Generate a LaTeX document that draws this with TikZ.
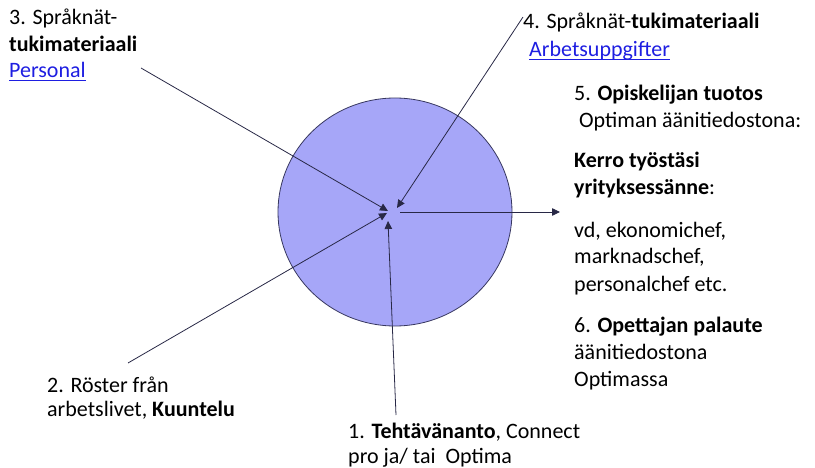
\documentclass[tikz,border=0pt]{standalone}
\usepackage{fontspec}
\setmainfont{Carlito}
\usetikzlibrary{arrows.meta,shapes.geometric}
\definecolor{discfill}{RGB}{166,166,248}
\definecolor{discline}{RGB}{55,55,95}
\definecolor{linkblue}{RGB}{30,30,225}
\definecolor{arrowline}{RGB}{40,40,70}
\begin{document}
\begin{tikzpicture}[x=1pt,y=-1pt,
  lbl/.style={anchor=base west,inner sep=0pt,font=\fontsize{22}{27}\selectfont},
  link/.style={lbl,text=linkblue},
  conn/.style={draw=arrowline,line width=0.8pt,-{Triangle[length=8pt,width=7.5pt]}}]
\useasboundingbox (0,0) rectangle (815,468);
\node[ellipse,draw=discline,fill=discfill,line width=0.8pt,minimum width=234,minimum height=228,inner sep=0pt] (disc) at (395,212) {};
% texts
\node[lbl] (t3a) at (9,25) {3. Språknät-};
\node[lbl] (t3b) at (9,52) {\textbf{tukimateriaali}};
\node[link] (t3c) at (9,78) {Personal};
\draw[linkblue,line width=1pt] ([yshift=-3pt]t3c.base west) -- ([yshift=-3pt]t3c.base east);
\node[lbl] (t4a) at (523,29) {4. Språknät-\textbf{tukimateriaali}};
\node[link] (t4b) at (529,57) {Arbetsuppgifter};
\draw[linkblue,line width=1pt] ([yshift=-3pt]t4b.base west) -- ([yshift=-3pt]t4b.base east);
\node[lbl] (t5a) at (574,101) {5. \textbf{Opiskelijan tuotos}};
\node[lbl] (t5b) at (574,128) {\ Optiman äänitiedostona:};
\node[lbl] (t5c) at (574,168) {\textbf{Kerro työstäsi}};
\node[lbl] (t5d) at (574,195) {\textbf{yrityksessänne}:};
\node[lbl] (t5e) at (574,237) {vd, ekonomichef,};
\node[lbl] (t5f) at (574,264) {marknadschef,};
\node[lbl] (t5g) at (574,291) {personalchef etc.};
\node[lbl] (t6a) at (574,332) {6. \textbf{Opettajan palaute}};
\node[lbl] (t6b) at (574,359) {äänitiedostona};
\node[lbl] (t6c) at (574,386) {Optimassa};
\node[lbl] (t2a) at (47,392) {2. Röster från};
\node[lbl] (t2b) at (47,416) {arbetslivet, \textbf{Kuuntelu}};
\node[lbl] (t1a) at (348,438) {1. \textbf{Tehtävänanto}, Connect};
\node[lbl] (t1b) at (348,463) {pro ja/ tai\ \ Optima};
% connector ends
\coordinate (s3) at (141,68);
\coordinate (e3) at (388,211);
\coordinate (s4) at (523,17);
\coordinate (e4) at (397,208);
\coordinate (s2) at (128,363);
\coordinate (e2) at (387,213);
\coordinate (s1) at (396,415);
\coordinate (e1) at (388,221);
\coordinate (s5) at (400,212);
\coordinate (e5) at (560,212);
\draw[conn] (s3) -- (e3);
\draw[conn] (s4) -- (e4);
\draw[conn] (s2) -- (e2);
\draw[conn] (s1) -- (e1);
\draw[conn] (s5) -- (e5);
\end{tikzpicture}
\end{document}
